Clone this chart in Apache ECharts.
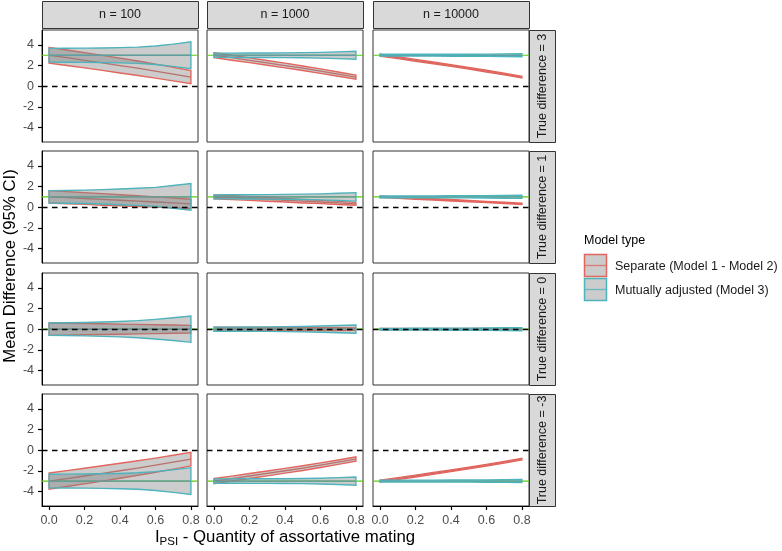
<!DOCTYPE html>
<html>
<head>
<meta charset="utf-8">
<script src="https://cdn.jsdelivr.net/npm/echarts@6/dist/echarts.min.js"></script>
<style>
    html, body { margin: 0; padding: 0; background: #fff; }
    #chart { width: 782px; height: 551px; }
</style>
</head>
<body>
<div id="chart"></div>
<script>
// x positions of the simulated assortative mating values
var xGrid = [0, 0.1, 0.2, 0.3, 0.4, 0.5, 0.6, 0.7, 0.8];
var xTicks = [0, 0.2, 0.4, 0.6, 0.8];
var yTicks = [-4, -2, 0, 2, 4];
var sampleLabels = ['n = 100', 'n = 1000', 'n = 10000'];
var trueDiffs = [3, 1, 0, -3];
var modelNames = ['Separate (Model 1 - Model 2)', 'Mutually adjusted (Model 3)'];

// point estimates, separate models (same for every n)
var sepMid3 = [3.0, 2.76, 2.51, 2.26, 2.0, 1.74, 1.46, 1.17, 0.87];
var sepMid1 = [1.0, 0.92, 0.84, 0.75, 0.67, 0.58, 0.5, 0.41, 0.32];
var sepMid0 = [0, 0, 0, 0, 0, 0, 0, 0, 0];
var sepMidM3 = [-3.0, -2.76, -2.51, -2.26, -2.0, -1.74, -1.46, -1.17, -0.87];
// point estimates, mutually adjusted model
var adjMid3 = [3, 3, 3, 3, 3, 3, 3, 3, 3];
var adjMid1 = [1, 1, 1, 1, 1, 1, 1, 1, 1];
var adjMid0 = [0, 0, 0, 0, 0, 0, 0, 0, 0];
var adjMidM3 = [-3, -3, -3, -3, -3, -3, -3, -3, -3];

// 95% CI half widths, n = 100
var sepHalf100_3 = [0.76, 0.75, 0.74, 0.73, 0.72, 0.70, 0.68, 0.66, 0.64];
var sepHalf100_1 = [0.60, 0.59, 0.57, 0.56, 0.54, 0.52, 0.50, 0.48, 0.45];
var sepHalf100_0 = [0.60, 0.58, 0.55, 0.52, 0.49, 0.46, 0.43, 0.40, 0.37];
var sepHalf100_M3 = [0.78, 0.77, 0.76, 0.75, 0.73, 0.71, 0.69, 0.67, 0.65];
var adjHalf100_3 = [0.67, 0.68, 0.69, 0.71, 0.74, 0.79, 0.90, 1.08, 1.30];
var adjHalf100_1 = [0.60, 0.62, 0.65, 0.70, 0.76, 0.83, 0.92, 1.10, 1.30];
var adjHalf100_0 = [0.60, 0.62, 0.65, 0.70, 0.75, 0.83, 0.95, 1.10, 1.28];
var adjHalf100_M3 = [0.66, 0.67, 0.69, 0.71, 0.74, 0.80, 0.92, 1.10, 1.30];
// n = 1000
var sepHalf1000_3 = [0.24, 0.24, 0.23, 0.23, 0.23, 0.22, 0.22, 0.21, 0.20];
var sepHalf1000_1 = [0.19, 0.19, 0.18, 0.18, 0.17, 0.17, 0.16, 0.15, 0.14];
var sepHalf1000_0 = [0.19, 0.18, 0.17, 0.16, 0.16, 0.15, 0.14, 0.13, 0.12];
var sepHalf1000_M3 = [0.25, 0.24, 0.24, 0.24, 0.23, 0.23, 0.22, 0.21, 0.21];
var adjHalf1000_3 = [0.21, 0.21, 0.22, 0.22, 0.23, 0.25, 0.28, 0.33, 0.38];
var adjHalf1000_1 = [0.19, 0.20, 0.21, 0.22, 0.24, 0.26, 0.29, 0.35, 0.41];
var adjHalf1000_0 = [0.20, 0.20, 0.21, 0.22, 0.24, 0.26, 0.30, 0.35, 0.40];
var adjHalf1000_M3 = [0.21, 0.21, 0.22, 0.22, 0.23, 0.25, 0.28, 0.33, 0.40];
// n = 10000
var sepHalf10000_3 = [0.09, 0.09, 0.09, 0.08, 0.08, 0.08, 0.08, 0.08, 0.08];
var sepHalf10000_1 = [0.07, 0.07, 0.07, 0.07, 0.07, 0.06, 0.06, 0.06, 0.06];
var sepHalf10000_0 = [0.07, 0.07, 0.07, 0.06, 0.06, 0.06, 0.06, 0.05, 0.05];
var sepHalf10000_M3 = [0.09, 0.09, 0.09, 0.09, 0.08, 0.08, 0.08, 0.08, 0.08];
var adjHalf10000_3 = [0.09, 0.09, 0.09, 0.09, 0.10, 0.10, 0.11, 0.13, 0.15];
var adjHalf10000_1 = [0.08, 0.08, 0.09, 0.09, 0.10, 0.10, 0.11, 0.13, 0.15];
var adjHalf10000_0 = [0.08, 0.08, 0.09, 0.09, 0.10, 0.10, 0.11, 0.13, 0.15];
var adjHalf10000_M3 = [0.09, 0.09, 0.09, 0.09, 0.10, 0.10, 0.11, 0.13, 0.15];

var sepMids = [sepMid3, sepMid1, sepMid0, sepMidM3];
var adjMids = [adjMid3, adjMid1, adjMid0, adjMidM3];
var sepHalfs = [
    [sepHalf100_3, sepHalf1000_3, sepHalf10000_3],
    [sepHalf100_1, sepHalf1000_1, sepHalf10000_1],
    [sepHalf100_0, sepHalf1000_0, sepHalf10000_0],
    [sepHalf100_M3, sepHalf1000_M3, sepHalf10000_M3]
];
var adjHalfs = [
    [adjHalf100_3, adjHalf1000_3, adjHalf10000_3],
    [adjHalf100_1, adjHalf1000_1, adjHalf10000_1],
    [adjHalf100_0, adjHalf1000_0, adjHalf10000_0],
    [adjHalf100_M3, adjHalf1000_M3, adjHalf10000_M3]
];

var FONT = 'Liberation Sans, Arial, sans-serif';
var RED = '#E2665E';
var TEAL = '#4DB3BC';
var GREEN = '#5CCB0C';
var FILL = 'rgba(128,128,128,0.4)';
var X_MIN = -0.04, X_MAX = 0.84;

var colLeft = [42, 207, 373];
var rowTop = [30, 151, 273, 394];
var panelW = 156;
var panelH = 112;

function band(gi, mid, half, color) {
    return {
        type: 'custom',
        xAxisIndex: gi,
        yAxisIndex: gi,
        silent: true,
        z: 3,
        data: xGrid.map(function (x, i) { return [x, mid[i]]; }),
        encode: {x: 0, y: 1},
        renderItem: function (params, api) {
            if (params.dataIndex !== 0) return null;
            var top = [], bot = [], line = [];
            for (var i = 0; i < xGrid.length; i++) {
                top.push(api.coord([xGrid[i], mid[i] + half[i]]));
                bot.unshift(api.coord([xGrid[i], mid[i] - half[i]]));
                line.push(api.coord([xGrid[i], mid[i]]));
            }
            return {
                type: 'group',
                children: [
                    {type: 'polyline', shape: {points: line}, style: {stroke: color, lineWidth: 1.3, fill: null}},
                    {type: 'polygon', shape: {points: top.concat(bot)}, style: {fill: FILL, stroke: color, lineWidth: 1.4}}
                ]
            };
        }
    };
}

// horizontal reference line across the whole panel, drawn under the ribbons
function refLine(gi, value) {
    return {
        type: 'custom',
        xAxisIndex: gi,
        yAxisIndex: gi,
        silent: true,
        z: 1,
        data: [[0, value]],
        encode: {x: 0, y: 1},
        renderItem: function (params, api) {
            var p1 = api.coord([X_MIN, value]);
            var p2 = api.coord([X_MAX, value]);
            return {
                type: 'line',
                shape: {x1: p1[0], y1: p1[1], x2: p2[0], y2: p2[1]},
                style: {stroke: GREEN, lineWidth: 1.2}
            };
        }
    };
}

var grids = [], xAxes = [], yAxes = [], series = [], graphics = [];

for (var r = 0; r < 4; r++) {
    for (var c = 0; c < 3; c++) {
        var gi = r * 3 + c;
        var bottomRow = r === 3, leftCol = c === 0;
        grids.push({
            left: colLeft[c], top: rowTop[r], width: panelW, height: panelH,
            show: true, backgroundColor: '#fff', borderColor: '#333', borderWidth: 1
        });
        xAxes.push({
            type: 'value', gridIndex: gi, min: X_MIN, max: X_MAX,
            splitLine: {show: false},
            axisLine: {show: bottomRow, onZero: false, lineStyle: {color: '#000', width: 1}},
            axisTick: {show: bottomRow, length: 4, customValues: xTicks, lineStyle: {color: '#000', width: 1.2}},
            axisLabel: {
                show: bottomRow, customValues: xTicks, margin: 8,
                color: '#4D4D4D', fontSize: 12.5, fontFamily: FONT,
                formatter: function (v) { return v.toFixed(1); }
            }
        });
        yAxes.push({
            type: 'value', gridIndex: gi, min: -5.42, max: 5.45,
            splitLine: {show: false},
            axisLine: {show: leftCol, onZero: false, lineStyle: {color: '#000', width: 1}},
            axisTick: {show: leftCol, length: 4, customValues: yTicks, lineStyle: {color: '#000', width: 1.2}},
            axisLabel: {
                show: leftCol, customValues: yTicks, margin: 8,
                color: '#4D4D4D', fontSize: 12.5, fontFamily: FONT
            }
        });
        series.push(refLine(gi, trueDiffs[r]));
        series.push(band(gi, sepMids[r], sepHalfs[r][c], RED));
        series.push(band(gi, adjMids[r], adjHalfs[r][c], TEAL));
        // zero line
        series.push({
            type: 'line', xAxisIndex: gi, yAxisIndex: gi, data: [], silent: true,
            markLine: {
                z: 6, silent: true, symbol: 'none', animation: false, label: {show: false},
                lineStyle: {color: '#000', width: 1.3, type: [5.5, 4.5]},
                data: [{yAxis: 0}]
            }
        });
    }
}

// facet strips on top
for (var c2 = 0; c2 < 3; c2++) {
    graphics.push({
        type: 'rect', shape: {x: colLeft[c2] + 0.5, y: 1.5, width: panelW, height: 27},
        style: {fill: '#D9D9D9', stroke: '#333', lineWidth: 1}
    });
    graphics.push({
        type: 'text', x: colLeft[c2] + panelW / 2, y: 15,
        style: {text: sampleLabels[c2], fill: '#1A1A1A', font: '12.5px ' + FONT, align: 'center', verticalAlign: 'middle'}
    });
}
// facet strips on the right
for (var r2 = 0; r2 < 4; r2++) {
    graphics.push({
        type: 'rect', shape: {x: 529.5, y: rowTop[r2] + 0.5, width: 26, height: panelH},
        style: {fill: '#D9D9D9', stroke: '#333', lineWidth: 1}
    });
    graphics.push({
        type: 'text', x: 543, y: rowTop[r2] + panelH / 2, rotation: Math.PI / 2,
        style: {text: 'True difference = ' + trueDiffs[r2], fill: '#1A1A1A', font: '12.5px ' + FONT, align: 'center', verticalAlign: 'middle'}
    });
}

// axis titles
graphics.push({
    type: 'text', x: 10, y: 266, rotation: Math.PI / 2,
    style: {text: 'Mean Difference (95% CI)', fill: '#000', font: '16.8px ' + FONT, align: 'center', verticalAlign: 'middle'}
});
graphics.push({
    type: 'text', x: 285, y: 537,
    style: {
        text: '{a|I}{b|PSI}{a| - Quantity of assortative mating}',
        align: 'center', verticalAlign: 'middle',
        rich: {
            a: {fontSize: 16.8, fontFamily: FONT, fill: '#000', lineHeight: 22},
            b: {fontSize: 11.5, fontFamily: FONT, fill: '#000', lineHeight: 12, verticalAlign: 'bottom'}
        }
    }
});

// legend
graphics.push({
    type: 'text', x: 584, y: 241,
    style: {text: 'Model type', fill: '#000', font: '12.5px ' + FONT, verticalAlign: 'middle'}
});
var legendColors = [RED, TEAL];
for (var k = 0; k < 2; k++) {
    var ky = 254.5 + k * 24;
    graphics.push({
        type: 'rect', shape: {x: 584.5, y: ky, width: 22, height: 22},
        style: {fill: '#CCCCCC', stroke: legendColors[k], lineWidth: 1.5}
    });
    graphics.push({
        type: 'line', shape: {x1: 585, y1: ky + 11, x2: 606, y2: ky + 11},
        style: {stroke: legendColors[k], lineWidth: 1.3, opacity: 0.8}
    });
    graphics.push({
        type: 'text', x: 615, y: ky + 12,
        style: {text: modelNames[k], fill: '#1A1A1A', font: '12.5px ' + FONT, verticalAlign: 'middle'}
    });
}

var chart = echarts.init(document.getElementById('chart'));
chart.setOption({
    animation: false,
    backgroundColor: '#fff',
    grid: grids,
    xAxis: xAxes,
    yAxis: yAxes,
    series: series,
    graphic: {elements: graphics}
});
</script>
</body>
</html>
